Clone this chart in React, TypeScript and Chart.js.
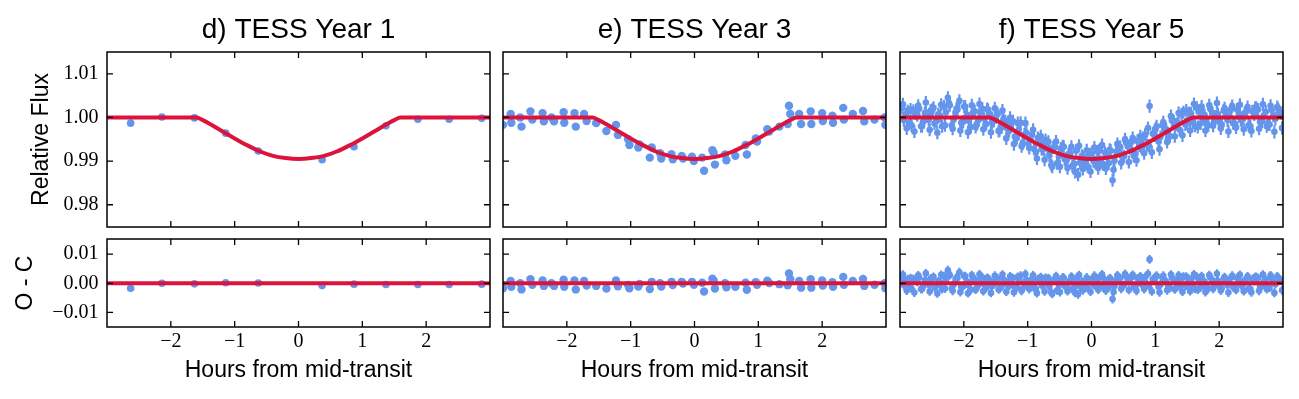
import React, { useEffect, useRef } from "react";
import { Chart, registerables } from "chart.js";

Chart.register(...registerables);

// ---------- data ----------
const TITLES = ["d) TESS Year 1", "e) TESS Year 3", "f) TESS Year 5"];
const X_LABEL = "Hours from mid-transit";
const FLUX_LABEL = "Relative Flux";
const OC_LABEL = "O - C";

const X_TICKS = [-2, -1, 0, 1, 2];
const X_TICK_LABELS = ["\u22122", "\u22121", "0", "1", "2"];
const FLUX_TICKS = [0.98, 0.99, 1.0, 1.01];
const FLUX_TICK_LABELS = ["0.98", "0.99", "1.00", "1.01"];
const OC_TICKS = [-0.01, 0, 0.01];
const OC_TICK_LABELS = ["\u22120.01", "0.00", "0.01"];

const X_RANGE = [-3, 3];
const FLUX_RANGE = [0.9749, 1.015];
const OC_RANGE = [-0.015, 0.0152];

const MODEL_X = [-3, -1.6, -1.5, -1.4, -1.2, -1.0, -0.8, -0.6, -0.4, -0.2, 0, 0.2, 0.4, 0.6, 0.8, 1.0, 1.2, 1.4, 1.5, 1.6, 3];
const MODEL_FLUX = [1, 1, 0.9994, 0.9986, 0.9969, 0.9952, 0.9936, 0.9922, 0.9912, 0.9907, 0.9905, 0.9907, 0.9912, 0.9922, 0.9936, 0.9952, 0.9969, 0.9986, 0.9994, 1, 1];
const ZERO_X = [-3, 3];
const ZERO_Y = [0, 0];

const Y1_X = [-2.63, -2.14, -1.63, -1.14, -0.63, 0.37, 0.87, 1.37, 1.87, 2.36, 2.87];
const Y1_FLUX = [0.9987, 1.0001, 0.9999, 0.9964, 0.9923, 0.9903, 0.9933, 0.9981, 0.9996, 0.9996, 0.9998];
const Y1_OC = [-0.0017, 0.0, -0.0002, 0.0002, 0.0001, -0.0008, -0.0003, -0.0004, -0.0004, -0.0004, -0.0003];

const Y3_X = [-3.0, -2.88, -2.87, -2.73, -2.71, -2.57, -2.54, -2.38, -2.36, -2.24,
  -2.2, -2.05, -2.04, -1.88, -1.86, -1.73, -1.69, -1.54, -1.38, -1.23,
  -1.2, -1.04, -1.02, -0.88, -0.86, -0.7, -0.67, -0.54, -0.52, -0.36,
  -0.34, -0.2, -0.18, -0.04, -0.01, 0.12, 0.15, 0.28, 0.3, 0.32,
  0.48, 0.5, 0.64, 0.8, 0.82, 0.96, 0.98, 1.14, 1.17, 1.33,
  1.48, 1.5, 1.46, 1.64, 1.67, 1.82, 1.83, 2.0, 2.01, 2.16,
  2.17, 2.33, 2.34, 2.48, 2.64, 2.66, 2.82, 2.98, 2.99];
const Y3_FLUX = [0.9983, 1.0008, 0.9988, 1.0, 0.9979, 1.0014, 0.9995, 1.001, 0.9991, 1.0,
  0.9991, 1.0012, 0.9988, 1.001, 0.9979, 1.0008, 0.9992, 0.9987, 0.9969, 0.9983,
  0.996, 0.995, 0.9937, 0.9931, 0.9938, 0.9908, 0.9931, 0.9918, 0.9906, 0.9916,
  0.9904, 0.9912, 0.9906, 0.991, 0.99, 0.9908, 0.9878, 0.9925, 0.9919, 0.9892,
  0.9915, 0.9902, 0.9912, 0.9937, 0.9915, 0.9952, 0.9945, 0.9973, 0.9968, 0.9979,
  1.0027, 1.0008, 0.9985, 1.0008, 0.9985, 1.0014, 0.9985, 1.001, 0.9992, 1.0004,
  0.9988, 1.0022, 0.9995, 1.0008, 1.0015, 0.9991, 0.9995, 1.0, 0.9983];
const Y3_OC = [-0.0017, 0.0008, -0.0012, 0.0, -0.0021, 0.0014, -0.0005, 0.001, -0.0009, 0.0,
  -0.0009, 0.0012, -0.0012, 0.001, -0.0021, 0.0008, -0.0008, -0.0009, -0.0018, 0.001,
  -0.001, -0.0006, -0.0017, -0.0011, -0.0002, -0.002, 0.0005, 0.0, -0.0011, 0.0005,
  -0.0006, 0.0005, -0.0001, 0.0005, -0.0005, 0.0002, -0.0028, 0.0016, 0.001, -0.0018,
  0.0, -0.0014, -0.0012, 0.0002, -0.0022, 0.0004, -0.0005, 0.0009, 0.0001, -0.0003,
  0.0034, 0.0014, -0.0007, 0.0008, -0.0015, 0.0014, -0.0015, 0.001, -0.0008, 0.0004,
  -0.0012, 0.0022, -0.0005, 0.0008, 0.0015, -0.0009, -0.0005, 0.0, -0.0017];

// Year 5: three interleaved cadences
const Y5_X_A = [-2.97, -2.91, -2.85, -2.79, -2.73, -2.67, -2.61, -2.55, -2.49, -2.43,
  -2.37, -2.31, -2.25, -2.19, -2.13, -2.07, -2.01, -1.95, -1.89, -1.83,
  -1.77, -1.71, -1.65, -1.59, -1.53, -1.47, -1.41, -1.35, -1.29, -1.23,
  -1.17, -1.11, -1.05, -0.99, -0.93, -0.87, -0.81, -0.75, -0.69, -0.63,
  -0.57, -0.51, -0.45, -0.39, -0.33, -0.27, -0.21, -0.15, -0.09, -0.03,
  0.03, 0.09, 0.15, 0.21, 0.27, 0.33, 0.39, 0.45, 0.51, 0.57,
  0.63, 0.69, 0.75, 0.81, 0.87, 0.91, 0.99, 1.05, 1.11, 1.17,
  1.23, 1.29, 1.35, 1.41, 1.47, 1.53, 1.59, 1.65, 1.71, 1.77,
  1.83, 1.89, 1.95, 2.01, 2.07, 2.13, 2.19, 2.25, 2.31, 2.37,
  2.43, 2.49, 2.55, 2.61, 2.67, 2.73, 2.79, 2.85, 2.91, 2.97];
const Y5_FLUX_A = [1.0022, 1.0008, 0.9988, 1.0015, 1.0005, 0.998, 1.001, 0.9995, 1.0018, 0.9992,
  1.0003, 1.0025, 1.0045, 0.9982, 1.0012, 1.0038, 0.999, 1.0006, 0.9978, 1.0014,
  0.9994, 1.002, 0.9985, 1.0008, 0.9992, 1.0008, 0.9977, 0.9991, 0.9969, 0.9991,
  0.9953, 0.9988, 0.9961, 0.994, 0.9961, 0.9921, 0.9944, 0.9928, 0.9932, 0.9891,
  0.9932, 0.9911, 0.9934, 0.9902, 0.9918, 0.9894, 0.9869, 0.9912, 0.9894, 0.9915,
  0.99, 0.9922, 0.9898, 0.9919, 0.9895, 0.9856, 0.9922, 0.9932, 0.9911, 0.9934,
  0.9945, 0.9917, 0.9936, 0.9953, 0.9937, 1.0026, 0.9959, 0.9945, 0.9982, 0.9973,
  0.9957, 0.999, 0.9987, 1.0007, 0.9984, 1.001, 0.9989, 1.0022, 0.9986, 1.0006,
  0.9982, 1.0011, 1.0002, 0.9988, 1.0016, 0.9994, 1.002, 0.9985, 1.0009, 0.9996,
  1.0015, 0.998, 1.0007, 1.0018, 0.9991, 1.0013, 0.9984, 1.0004, 1.0024, 1.001];
const Y5_OC_A = [0.0022, 0.0008, -0.0012, 0.0015, 0.0005, -0.002, 0.001, -0.0005, 0.0018, -0.0008,
  0.0003, 0.0025, 0.0045, -0.0018, 0.0012, 0.0038, -0.001, 0.0006, -0.0022, 0.0014,
  -0.0006, 0.002, -0.0015, 0.0009, -0.0004, 0.0016, -0.0012, 0.0007, -0.0009, 0.0018,
  -0.0014, 0.0026, 0.0004, -0.0011, 0.0015, -0.002, 0.0008, -0.0003, 0.0005, -0.0032,
  0.0012, -0.0006, 0.002, -0.001, 0.0008, -0.0015, -0.0038, 0.0006, -0.0012, 0.001,
  -0.0005, 0.0016, -0.0008, 0.0012, -0.0014, -0.0054, 0.001, 0.0018, -0.0006, 0.0014,
  0.0022, -0.001, 0.0005, 0.0017, -0.0004, 0.0082, 0.0008, -0.0012, 0.002, 0.0006,
  -0.0016, 0.0012, 0.0003, 0.0018, -0.0008, 0.0014, -0.001, 0.0022, -0.0014, 0.0006,
  -0.0018, 0.0011, 0.0002, -0.0012, 0.0016, -0.0006, 0.002, -0.0015, 0.0009, -0.0004,
  0.0015, -0.002, 0.0007, 0.0018, -0.0009, 0.0013, -0.0016, 0.0004, 0.0024, 0.001];

const Y5_X_B = [-2.94, -2.88, -2.82, -2.76, -2.7, -2.64, -2.58, -2.52, -2.46, -2.4,
  -2.34, -2.28, -2.22, -2.16, -2.1, -2.04, -1.98, -1.92, -1.86, -1.8,
  -1.74, -1.68, -1.62, -1.56, -1.5, -1.44, -1.38, -1.32, -1.26, -1.2,
  -1.14, -1.08, -1.02, -0.96, -0.9, -0.84, -0.78, -0.72, -0.66, -0.6,
  -0.54, -0.48, -0.42, -0.36, -0.3, -0.24, -0.18, -0.12, -0.06, 0.0,
  0.06, 0.12, 0.18, 0.24, 0.3, 0.36, 0.42, 0.48, 0.54, 0.6,
  0.66, 0.72, 0.78, 0.84, 0.9, 0.96, 1.02, 1.08, 1.14, 1.2,
  1.26, 1.32, 1.38, 1.44, 1.5, 1.56, 1.62, 1.68, 1.74, 1.8,
  1.86, 1.92, 1.98, 2.04, 2.1, 2.16, 2.22, 2.28, 2.34, 2.4,
  2.46, 2.52, 2.58, 2.64, 2.7, 2.76, 2.82, 2.88, 2.94];
const Y5_FLUX_B = [0.9994, 1.0014, 0.9982, 1.0009, 1.002, 0.9989, 1.0003, 1.0016, 0.9986, 1.0007,
  0.998, 1.0012, 1.0028, 0.9995, 1.0018, 0.9988, 1.0025, 0.9992, 1.001, 0.9984,
  1.0013, 0.9997, 1.0017, 0.9988, 1.0, 0.9971, 0.9996, 0.9975, 0.9989, 0.9956,
  0.9972, 0.994, 0.9965, 0.9951, 0.9928, 0.9953, 0.9927, 0.9948, 0.9913, 0.9931,
  0.9895, 0.9929, 0.9904, 0.9916, 0.9889, 0.9924, 0.9896, 0.9909, 0.9888, 0.9917,
  0.9897, 0.9924, 0.9893, 0.9914, 0.9924, 0.9901, 0.9933, 0.991, 0.9943, 0.993,
  0.9912, 0.9946, 0.9932, 0.996, 0.9935, 0.9963, 0.998, 0.9955, 0.9976, 0.9954,
  0.9993, 0.9984, 0.9972, 1.0012, 0.9987, 1.0009, 0.9981, 1.0015, 1.0004, 0.9986,
  1.002, 0.9991, 1.0008, 0.9983, 1.0013, 1.0002, 0.9987, 1.0018, 0.9994, 1.001,
  0.9982, 1.0014, 1.0022, 0.999, 1.0005, 0.9985, 1.0017, 0.9997, 1.0012];
const Y5_OC_B = [-0.0006, 0.0014, -0.0018, 0.0009, 0.002, -0.0011, 0.0003, 0.0016, -0.0014, 0.0007,
  -0.002, 0.0012, 0.0028, -0.0005, 0.0018, -0.0012, 0.0025, -0.0008, 0.001, -0.0016,
  0.0013, -0.0003, 0.0017, -0.001, 0.0006, -0.0018, 0.0012, -0.0004, 0.0015, -0.0013,
  0.0008, -0.0019, 0.0011, 0.0002, -0.0016, 0.0014, -0.0007, 0.0019, -0.0012, 0.0009,
  -0.0024, 0.0013, -0.0009, 0.0005, -0.002, 0.0016, -0.0011, 0.0003, -0.0017, 0.0012,
  -0.0008, 0.0018, -0.0014, 0.0006, 0.0015, -0.001, 0.002, -0.0006, 0.0024, 0.0008,
  -0.0013, 0.0017, -0.0002, 0.0021, -0.0009, 0.0014, 0.0026, -0.0004, 0.0012, -0.0015,
  0.0019, 0.0005, -0.0012, 0.0023, -0.0007, 0.0011, -0.0019, 0.0015, 0.0004, -0.0014,
  0.002, -0.0009, 0.0008, -0.0017, 0.0013, 0.0002, -0.0013, 0.0018, -0.0006, 0.001,
  -0.0018, 0.0014, 0.0022, -0.001, 0.0005, -0.0015, 0.0017, -0.0003, 0.0012];

const Y5_X_C = [-2.955, -2.895, -2.835, -2.775, -2.715, -2.655, -2.595, -2.535, -2.475, -2.415,
  -2.355, -2.295, -2.235, -2.175, -2.115, -2.055, -1.995, -1.935, -1.875, -1.815,
  -1.755, -1.695, -1.635, -1.575, -1.515, -1.455, -1.395, -1.335, -1.275, -1.215,
  -1.155, -1.095, -1.035, -0.975, -0.915, -0.855, -0.795, -0.735, -0.675, -0.615,
  -0.555, -0.495, -0.435, -0.375, -0.315, -0.255, -0.195, -0.135, -0.075, -0.015,
  0.045, 0.105, 0.165, 0.225, 0.285, 0.345, 0.405, 0.465, 0.525, 0.585,
  0.645, 0.705, 0.765, 0.825, 0.885, 0.945, 1.005, 1.065, 1.125, 1.185,
  1.245, 1.305, 1.365, 1.425, 1.485, 1.545, 1.605, 1.665, 1.725, 1.785,
  1.845, 1.905, 1.965, 2.025, 2.085, 2.145, 2.205, 2.265, 2.325, 2.385,
  2.445, 2.505, 2.565, 2.625, 2.685, 2.745, 2.805, 2.865, 2.925, 2.985];
const Y5_FLUX_C = [1.003, 0.9975, 1.0018, 0.9968, 1.0027, 0.998, 1.0034, 0.9972, 1.0022, 0.9965,
  1.0029, 0.9982, 1.0033, 0.9974, 1.002, 0.997, 1.0025, 0.9966, 1.0028, 0.9978,
  1.0031, 0.9973, 1.0019, 0.9966, 1.0021, 0.9969, 1.0016, 0.9952, 0.9999, 0.9939,
  0.9987, 0.9934, 0.9987, 0.993, 0.9972, 0.9906, 0.9957, 0.9903, 0.9944, 0.9887,
  0.9945, 0.9887, 0.9933, 0.9884, 0.9933, 0.9875, 0.9935, 0.9882, 0.9925, 0.9876,
  0.9931, 0.9884, 0.9937, 0.9883, 0.9926, 0.988, 0.9939, 0.9896, 0.995, 0.9898,
  0.9953, 0.9902, 0.9957, 0.9918, 0.9976, 0.992, 0.9974, 0.9927, 0.9989, 0.9944,
  1.0003, 0.9957, 1.001, 0.9959, 1.0016, 0.997, 1.0031, 0.9978, 1.0025, 0.997,
  1.0028, 0.9981, 1.0033, 0.9975, 1.0021, 0.9968, 1.0026, 0.9977, 1.0029, 0.9973,
  1.0024, 0.9969, 1.0022, 0.9974, 1.003, 0.998, 1.0027, 0.9967, 1.0019, 0.9976];
const Y5_OC_C = [0.003, -0.0025, 0.0018, -0.0032, 0.0027, -0.002, 0.0034, -0.0028, 0.0022, -0.0035,
  0.0029, -0.0018, 0.0033, -0.0026, 0.002, -0.003, 0.0025, -0.0034, 0.0028, -0.0022,
  0.0031, -0.0027, 0.0019, -0.0033, 0.0026, -0.0021, 0.003, -0.0029, 0.0024, -0.0031,
  0.0022, -0.0026, 0.0032, -0.002, 0.0027, -0.0034, 0.0021, -0.0028, 0.0018, -0.0036,
  0.0025, -0.003, 0.0019, -0.0027, 0.0023, -0.0033, 0.0028, -0.0024, 0.002, -0.0029,
  0.0026, -0.0022, 0.0031, -0.0025, 0.0017, -0.003, 0.0027, -0.0019, 0.0032, -0.0023,
  0.0029, -0.0026, 0.0024, -0.002, 0.0033, -0.0028, 0.0022, -0.0031, 0.0026, -0.0024,
  0.003, -0.0021, 0.0027, -0.0029, 0.0023, -0.0027, 0.0031, -0.0022, 0.0025, -0.003,
  0.0028, -0.0019, 0.0033, -0.0025, 0.0021, -0.0032, 0.0026, -0.0023, 0.0029, -0.0027,
  0.0024, -0.0031, 0.0022, -0.0026, 0.003, -0.002, 0.0027, -0.0033, 0.0019, -0.0024];

const Y5_X = Y5_X_C.concat(Y5_X_B, Y5_X_A);
const Y5_FLUX = Y5_FLUX_C.concat(Y5_FLUX_B, Y5_FLUX_A);
const Y5_OC = Y5_OC_C.concat(Y5_OC_B, Y5_OC_A);
const Y5_ERR = 0.0015;

// ---------- style ----------
const SANS = '"Liberation Sans", Arial, sans-serif';
const SERIF = '"Liberation Serif", "Times New Roman", serif';
const BLUE = "#6495ED";
const RED = "#DC143C";
const COL_LEFT = [107, 503, 900];
const PLOT_W = 383;

type PanelProps = {
  col: number;
  top: boolean;
  xs: number[];
  ys: number[];
  err?: number;
  radius: number;
};

function labelFor(ticks: number[], labels: string[], v: number) {
  const i = ticks.findIndex((t) => Math.abs(t - v) < 1e-9);
  return i >= 0 ? labels[i] : "";
}

function Panel({ col, top, xs, ys, err, radius }: PanelProps) {
  const ref = useRef<HTMLCanvasElement | null>(null);
  const first = col === 0;
  const leftW = first ? COL_LEFT[0] : 8;
  const canvasLeft = COL_LEFT[col] - leftW;
  const canvasW = leftW + PLOT_W + 8;
  const canvasTop = top ? 0 : 232;
  const canvasH = top ? 232 : 167;

  useEffect(() => {
    if (!ref.current) return;
    const yTicks = top ? FLUX_TICKS : OC_TICKS;
    const yLabels = top ? FLUX_TICK_LABELS : OC_TICK_LABELS;
    const lineX = top ? MODEL_X : ZERO_X;
    const lineY = top ? MODEL_FLUX : ZERO_Y;

    const framePlugin = {
      id: "frameTicks",
      afterDraw(chart: any) {
        const { ctx, chartArea: a, scales } = chart;
        const L = 6;
        ctx.save();
        ctx.strokeStyle = "#000";
        ctx.lineWidth = 1.3;
        ctx.beginPath();
        X_TICKS.forEach((v) => {
          const p = scales.x.getPixelForValue(v);
          ctx.moveTo(p, a.bottom);
          ctx.lineTo(p, a.bottom - L);
          ctx.moveTo(p, a.top);
          ctx.lineTo(p, a.top + L);
        });
        yTicks.forEach((v) => {
          const p = scales.y.getPixelForValue(v);
          ctx.moveTo(a.left, p);
          ctx.lineTo(a.left + L, p);
          ctx.moveTo(a.right, p);
          ctx.lineTo(a.right - L, p);
        });
        ctx.stroke();
        ctx.lineWidth = 1.5;
        ctx.strokeRect(a.left, a.top, a.right - a.left, a.bottom - a.top);
        ctx.restore();
      },
    };

    const errPlugin = {
      id: "errBars",
      beforeDatasetsDraw(chart: any) {
        if (!err) return;
        const { ctx, chartArea: a, scales } = chart;
        ctx.save();
        ctx.beginPath();
        ctx.rect(a.left, a.top, a.right - a.left, a.bottom - a.top);
        ctx.clip();
        ctx.strokeStyle = BLUE;
        ctx.lineWidth = 2.2;
        ctx.beginPath();
        xs.forEach((x, i) => {
          const px = scales.x.getPixelForValue(x);
          ctx.moveTo(px, scales.y.getPixelForValue(ys[i] - err));
          ctx.lineTo(px, scales.y.getPixelForValue(ys[i] + err));
        });
        ctx.stroke();
        ctx.restore();
      },
    };

    const chart = new Chart(ref.current, {
      type: "scatter",
      data: {
        datasets: [
          {
            type: "line",
            data: lineX.map((x, i) => ({ x, y: lineY[i] })),
            borderColor: RED,
            borderWidth: 4,
            pointRadius: 0,
            cubicInterpolationMode: "monotone",
            clip: 0,
            order: 0,
          } as any,
          {
            type: "scatter",
            data: xs.map((x, i) => ({ x, y: ys[i] })),
            pointRadius: radius,
            pointBackgroundColor: BLUE,
            backgroundColor: BLUE,
            pointBorderWidth: 0,
            borderWidth: 0,
            clip: 0,
            order: 1,
          } as any,
        ],
      },
      options: {
        animation: false,
        responsive: false,
        maintainAspectRatio: false,
        events: [],
        layout: {
          padding: top
            ? { top: 0, right: 8, bottom: 5, left: 0 }
            : { top: 7, right: 8, bottom: 12, left: 0 },
        },
        plugins: {
          legend: { display: false },
          tooltip: { enabled: false },
          title: {
            display: top,
            text: TITLES[col],
            fullSize: false,
            color: "#000",
            font: { family: SANS, size: 28, weight: "normal" },
            padding: { top: 13.7, bottom: 4.7 },
          },
        },
        scales: {
          x: {
            type: "linear",
            position: "bottom",
            min: X_RANGE[0],
            max: X_RANGE[1],
            afterBuildTicks: (s: any) => {
              s.ticks = X_TICKS.map((v) => ({ value: v }));
            },
            afterFit: (s: any) => {
              s.height = top ? 0 : 60;
              s.paddingLeft = 0;
              s.paddingRight = 0;
              s.paddingTop = 0;
              s.paddingBottom = 0;
            },
            grid: { display: false, drawTicks: false },
            border: { display: false },
            ticks: {
              display: !top,
              padding: 2.5,
              autoSkip: false,
              maxRotation: 0,
              color: "#000",
              font: { family: SERIF, size: 20 },
              callback: (v: any) => labelFor(X_TICKS, X_TICK_LABELS, Number(v)),
            },
            title: {
              display: !top,
              text: X_LABEL,
              color: "#000",
              font: { family: SANS, size: 23 },
              padding: { top: 0, bottom: 2.9 },
            },
          },
          y: {
            type: "linear",
            position: "left",
            min: top ? FLUX_RANGE[0] : OC_RANGE[0],
            max: top ? FLUX_RANGE[1] : OC_RANGE[1],
            afterBuildTicks: (s: any) => {
              s.ticks = yTicks.map((v) => ({ value: v }));
            },
            afterFit: (s: any) => {
              s.width = leftW;
              s.paddingLeft = 0;
              s.paddingRight = 0;
              s.paddingTop = 0;
              s.paddingBottom = 0;
            },
            grid: { display: false, drawTicks: false },
            border: { display: false },
            ticks: {
              display: first,
              padding: 8.5,
              autoSkip: false,
              color: "#000",
              font: { family: SERIF, size: 20 },
              callback: (v: any) => labelFor(yTicks, yLabels, Number(v)),
            },
            title: {
              display: first,
              text: top ? FLUX_LABEL : OC_LABEL,
              color: "#000",
              font: { family: SANS, size: 23 },
              padding: { top: top ? 28.2 : 11.5, bottom: 0 },
            },
          },
        },
      } as any,
      plugins: [errPlugin, framePlugin],
    });
    return () => chart.destroy();
  }, [col, top, xs, ys, err, radius]);

  return (
    <canvas
      ref={ref}
      width={canvasW}
      height={canvasH}
      style={{
        position: "absolute",
        left: canvasLeft,
        top: canvasTop,
        width: canvasW,
        height: canvasH,
      }}
    />
  );
}

export default function App() {
  return (
    <div
      style={{
        position: "absolute",
        left: 0,
        top: 0,
        width: 1299,
        height: 399,
        background: "#fff",
        overflow: "hidden",
      }}
    >
      <Panel col={0} top={true} xs={Y1_X} ys={Y1_FLUX} radius={3.8} />
      <Panel col={1} top={true} xs={Y3_X} ys={Y3_FLUX} radius={4.2} />
      <Panel col={2} top={true} xs={Y5_X} ys={Y5_FLUX} err={Y5_ERR} radius={3.3} />
      <Panel col={0} top={false} xs={Y1_X} ys={Y1_OC} radius={3.8} />
      <Panel col={1} top={false} xs={Y3_X} ys={Y3_OC} radius={4.2} />
      <Panel col={2} top={false} xs={Y5_X} ys={Y5_OC} err={Y5_ERR} radius={3.3} />
    </div>
  );
}
